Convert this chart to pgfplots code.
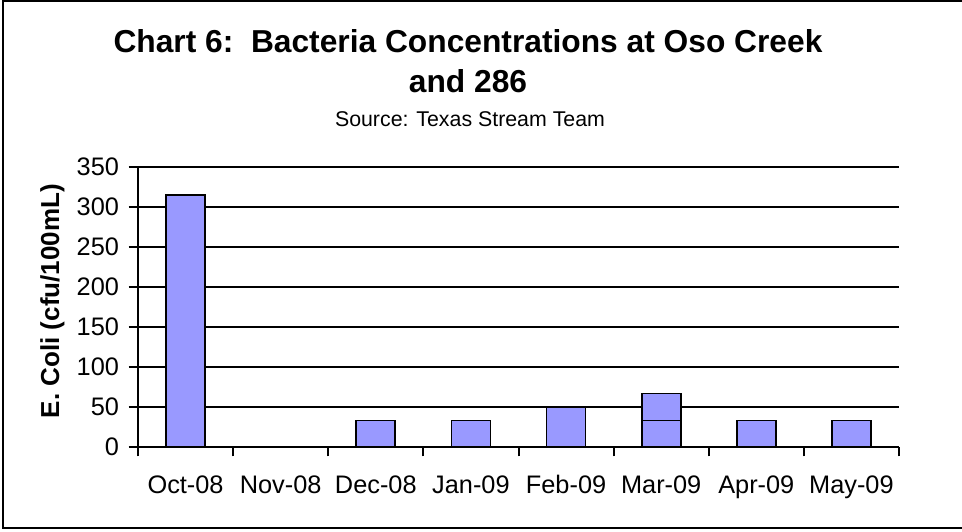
\documentclass[border=0pt]{standalone}
\usepackage{fontspec}
\setmainfont{Liberation Sans}
\usepackage{pgfplots}
\pgfplotsset{compat=1.18}
\definecolor{barfill}{HTML}{9999FF}
\begin{document}
\begin{tikzpicture}[x=0.75pt,y=0.75pt]
\path[use as bounding box] (0,0) rectangle (962,531);
\draw[line width=1.5pt] (962,530) -- (3,530) -- (3,3) -- (962,3);
\begin{axis}[
  at={(103.5pt,63pt)}, anchor=south west,
  scale only axis, width=570.75pt, height=210pt,
  xmin=-0.5, xmax=7.5, ymin=0, ymax=350,
  ytick={0,50,...,350},
  xtick={-0.5,0.5,...,7.5},
  xticklabels={},
  extra x ticks={0,...,7},
  extra x tick labels={Oct-08,Nov-08,Dec-08,Jan-09,Feb-09,Mar-09,Apr-09,May-09},
  extra x tick style={major tick length=0pt, tick style={draw=none},
    xticklabel style={anchor=base, yshift=-34.5pt}},
  major tick length=7pt,
  tick align=outside,
  axis x line*=bottom, axis y line*=left,
  axis line style={line width=1.5pt, -},
  tick style={line width=1.5pt, black},
  ymajorgrids, grid style={line width=1.5pt, black},
  /pgf/number format/assume math mode=true,
  tick label style={font=\fontsize{19pt}{19pt}\selectfont},
  yticklabel style={xshift=-3.75pt},
  ylabel={E. Coli (cfu/100mL)},
  ylabel style={font=\fontsize{19.5pt}{20pt}\selectfont\bfseries, at={(axis description cs:-0.1038,0.521)}, anchor=base},
]
\addplot[ybar, bar width=29.25pt, bar shift=0pt, fill=barfill, draw=black, line width=1.3pt]
  coordinates {(0,315) (2,33) (3,33) (4,50) (5,67) (6,33) (7,33)};
\addplot[ybar, bar width=29.25pt, bar shift=0pt, fill=barfill, draw=black, line width=1.3pt]
  coordinates {(5,33)};
\end{axis}
\node[font=\fontsize{23.8pt}{24pt}\selectfont\bfseries, anchor=base] at (468,478) {Chart 6:\hspace{0.556em}Bacteria Concentrations at Oso Creek};
\node[font=\fontsize{23.8pt}{24pt}\selectfont\bfseries, anchor=base] at (468,438) {and 286};
\node[font=\fontsize{16pt}{16pt}\selectfont, anchor=base] at (470,404) {Source: Texas Stream Team};
\end{tikzpicture}
\end{document}
